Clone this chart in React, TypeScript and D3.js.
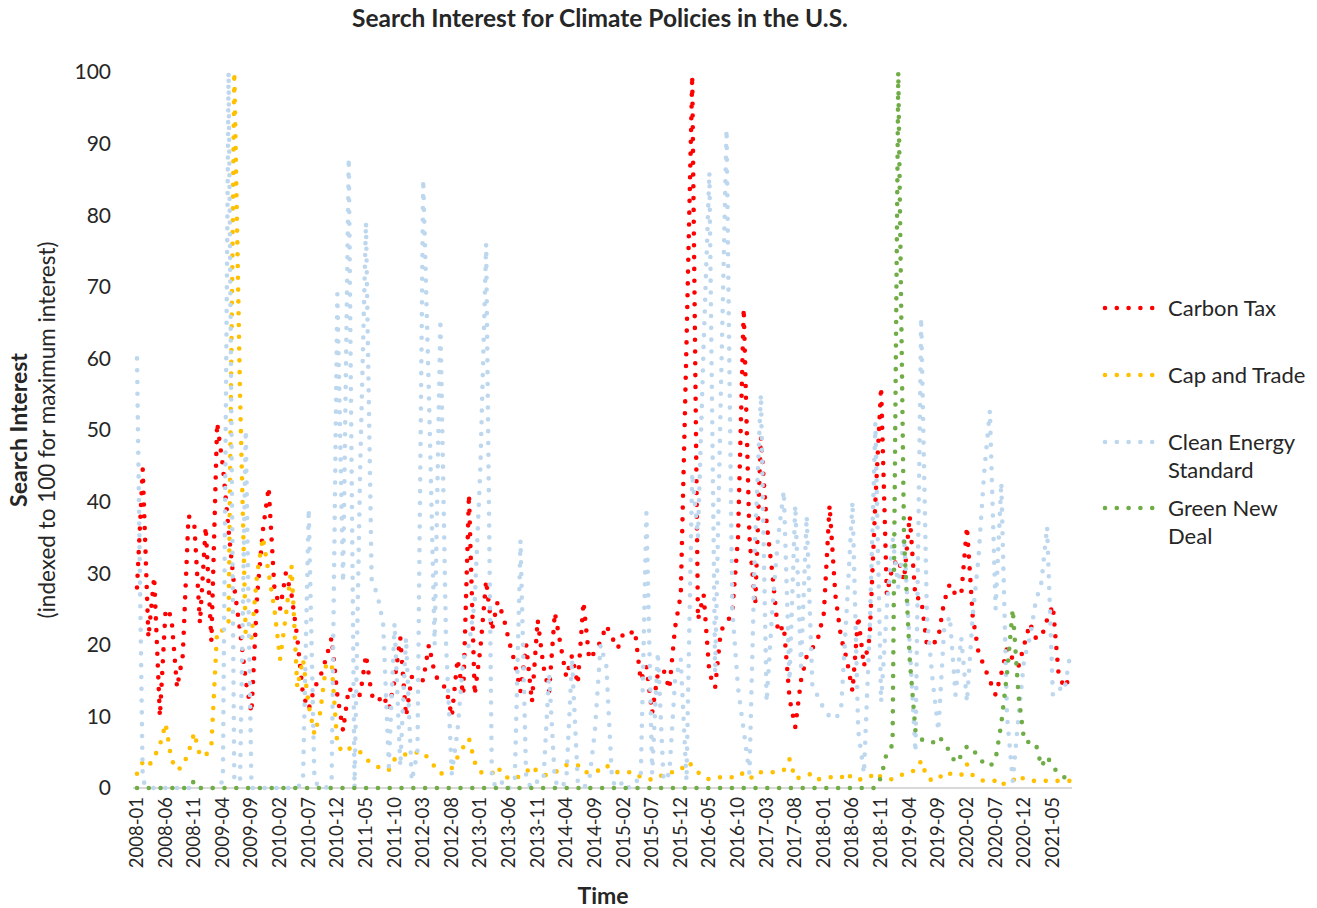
import React from "react";
import * as d3 from "d3";

const tickLabels = [
  "2008-01", "2008-06", "2008-11", "2009-04", "2009-09", "2010-02", "2010-07", "2010-12",
  "2011-05", "2011-10", "2012-03", "2012-08", "2013-01", "2013-06", "2013-11", "2014-04",
  "2014-09", "2015-02", "2015-07", "2015-12", "2016-05", "2016-10", "2017-03", "2017-08",
  "2018-01", "2018-06", "2018-11", "2019-04", "2019-09", "2020-02", "2020-07", "2020-12", "2021-05",
];
const tickStep = 5;

const carbonTax = [
  28, 44.5, 21, 29.5, 10, 25, 24, 14, 18.5, 38,
  37, 23, 36.5, 20.5, 51, 45, 36, 28, 22, 15,
  10.5, 27, 36, 42, 28, 25, 30, 27, 21, 13,
  11, 14, 15.5, 18, 21, 13, 8, 14, 13, 13,
  18.6, 13, 12, 13, 11, 15, 21, 10, 15.5, 15.5,
  15, 20, 16, 14.5, 14, 10, 18, 13, 41, 13,
  19.5, 29, 22, 26, 24, 20.5, 17.5, 13.5, 20, 12,
  23.5, 17, 13.5, 24.5, 20, 15.5, 18.5, 14.5, 26, 18,
  19, 20.5, 22.7, 21, 19.5, 21.7, 21.5, 22, 15, 17,
  10.5, 16, 16.5, 13.8, 22.4, 27, 62, 99.5, 23.5, 27,
  16, 14, 22, 23, 24.5, 35, 67, 35, 25.5, 49,
  37, 30, 21.7, 22.7, 12.5, 8.5, 15, 18.4, 19.5, 21,
  24.4, 39.5, 27, 21, 18, 13.5, 24, 17, 21, 40,
  56, 27, 31, 32, 29, 38, 26.5, 26.5, 20, 20,
  21, 26, 28.5, 27, 27, 36.5, 24, 19, 17, 15,
  13, 16, 19.5, 18, 17, 20, 23, 21, 21, 23.5,
  25.5, 16, 14, 15.5,
];

const capAndTrade = [
  2, 3.6, 3, 4.3, 6, 9, 4, 2.5, 3, 5,
  7.7, 4.5, 4.5, 6, 22, 22, 23, 100, 55, 21,
  21, 30, 35, 30, 25, 18, 24, 31, 14, 18,
  11.5, 7.5, 10.5, 17, 17.5, 6, 5, 5.5, 5.5, 5,
  4, 3.5, 3, 2.5, 2.5, 4, 4.5, 4.7, 4.7, 5,
  5, 4, 3, 2, 2.2, 2.8, 4.3, 5.7, 6.9, 3.6,
  2.2, 2.1, 2, 3, 1.6, 1.4, 1.2, 1.8, 2.2, 3.1,
  2.2, 1.8, 1.8, 2.2, 2.6, 3.2, 3.2, 3.2, 2.2, 2.2,
  2.2, 2.6, 3.2, 2.4, 2.2, 2.2, 2.2, 2.2, 1.5, 1.2,
  1.2, 1.3, 2, 2.2, 2.2, 2.5, 3.6, 3.2, 2.2, 1.5,
  1.2, 1.4, 1.5, 1.6, 1.5, 1.5, 2.2, 1.5, 1.4, 2.2,
  2.2, 2.2, 2.2, 2.5, 4, 1.3, 1.5, 1.8, 2, 1.2,
  1.4, 1.5, 1.5, 1.4, 2.2, 1.2, 1.2, 1.2, 1.5, 2.2,
  1.5, 1.3, 1.2, 1.6, 2, 2.2, 2.5, 3.8, 1.5, 1,
  1.2, 2.2, 2, 1.8, 1.8, 3.3, 1.8, 1.2, 1, 1,
  1, 0.3, 1, 1, 1.8, 1.2, 1, 1, 1, 1,
  1, 1, 1, 1,
];

const cleanEnergyStandard = [
  60, 1, 0, 0, 0, 0, 0, 0, 0, 0,
  0, 0, 0, 0, 0, 1, 100, 1, 1, 50,
  0, 0, 0, 0, 0, 0, 0, 0, 0, 1,
  39, 1, 0, 0, 1, 69, 28.7, 88, 0, 45,
  79, 29, 27, 23, 3, 23, 3, 21, 1, 5,
  85, 55, 20, 65.5, 20, 2, 8, 18, 20, 26,
  45, 76, 1, 0, 1, 0, 1, 34.6, 1, 0,
  1, 1, 16, 1, 0, 1, 18, 1, 0, 1,
  8, 20, 17, 1, 0, 1, 0, 1, 1, 38.4,
  2, 19, 1, 2, 15, 18, 1, 44, 35, 62,
  86, 16, 55, 92, 25, 14, 8, 2, 35, 55,
  12, 25, 35, 41.5, 15, 39.5, 17, 38, 14, 12.8,
  11, 10, 9.6, 10.9, 25, 40, 8, 2, 22, 51,
  12, 25, 35, 28, 35, 20, 5, 65.7, 24, 15,
  8, 22, 24, 13, 21, 12, 24, 32, 44, 52.7,
  25, 42.7, 10, 1, 10, 18, 21, 26, 28.7, 36.5,
  13, 14, 13.5, 18.5,
];

const greenNewDeal = [
  0, 0, 0, 0, 0, 0, 0, 0, 0, 0,
  1, 0, 0, 0, 0, 0, 0, 0, 0, 0,
  0, 0, 0, 0, 0, 0, 0, 0, 0, 0,
  0, 0, 0, 0, 0, 0, 0, 0, 0, 0,
  0, 0, 0, 0, 0, 0, 0, 0, 0, 0,
  0, 0, 0, 0, 0, 0, 0, 0, 0, 0,
  0, 0, 0, 0, 0, 0, 0, 0, 0, 0,
  0, 0, 0, 0, 0, 0, 0, 0, 0, 0,
  0, 0, 0, 0, 0, 0, 0, 0, 0, 0,
  0, 0, 0, 0, 0, 0, 0, 0, 0, 0,
  0, 0, 0, 0, 0, 0, 0, 0, 0, 0,
  0, 0, 0, 0, 0, 0, 0, 0, 0, 0,
  0, 0, 0, 0, 0, 0, 0, 0, 0, 0,
  1.5, 5, 6, 100, 35, 18, 8, 6.8, 6.5, 6.3,
  7.2, 6.4, 5, 3.5, 4.5, 5.8, 5.6, 4.1, 3.5, 3,
  4, 9, 16, 25, 13, 6.5, 6.4, 6.3, 3, 4.4,
  3, 2, 1.5, 1,
];

const yTicks = [0, 10, 20, 30, 40, 50, 60, 70, 80, 90, 100];

const seriesNames = ["Carbon Tax", "Cap and Trade", "Clean Energy Standard", "Green New Deal"];
const seriesLegendLines = [["Carbon Tax"], ["Cap and Trade"], ["Clean Energy", "Standard"], ["Green New", "Deal"]];
const seriesColors = ["#FF0000", "#FFC000", "#BDD7EE", "#70AD47"];
const seriesData = [carbonTax, capAndTrade, cleanEnergyStandard, greenNewDeal];

const FONT = "Lato, 'Open Sans', sans-serif";
const TEXT = "#262626";

export default function App() {
  const W = 1317;
  const H = 908;
  const n = carbonTax.length;
  const x = d3.scaleLinear().domain([0, n - 1]).range([137, 1070]);
  const y = d3.scaleLinear().domain([0, 100]).range([788, 72]);
  const line = d3
    .line<number>()
    .x((_, i) => x(i))
    .y((d) => y(d));

  const legendY = [308, 375, 442, 508];

  return (
    <div style={{ position: "absolute", left: 0, top: 0 }}>
      <svg width={W} height={H} style={{ display: "block", background: "#fff" }}>
        <text x={600} y={27} textAnchor="middle" fontFamily={FONT} fontWeight="bold" fontSize={24.5} fill={TEXT}>
          Search Interest for Climate Policies in the U.S.
        </text>

        {yTicks.map((t) => (
          <text key={t} x={111} y={y(t)} dy="0.35em" textAnchor="end" fontFamily={FONT} fontSize={21} fill={TEXT}>
            {t}
          </text>
        ))}

        <line x1={133} x2={1072} y1={y(0)} y2={y(0)} stroke="#D9D9D9" strokeWidth={2} />

        {tickLabels.map((lab, k) => (
          <text
            key={lab}
            transform={`translate(${x(k * tickStep) + 6},${797}) rotate(-90)`}
            textAnchor="end"
            fontFamily={FONT}
            fontSize={18.5}
            fill={TEXT}
          >
            {lab}
          </text>
        ))}

        <text
          transform="translate(27,430) rotate(-90)"
          textAnchor="middle"
          fontFamily={FONT}
          fontWeight="bold"
          fontSize={23}
          fill={TEXT}
        >
          Search Interest
        </text>
        <text
          transform="translate(55,430) rotate(-90)"
          textAnchor="middle"
          fontFamily={FONT}
          fontSize={22.5}
          fill={TEXT}
        >
          (indexed to 100 for maximum interest)
        </text>

        <text x={603} y={904} textAnchor="middle" fontFamily={FONT} fontWeight="bold" fontSize={23} fill={TEXT}>
          Time
        </text>

        {seriesData.map((data, s) => (
          <path
            key={seriesNames[s]}
            d={line(data) || ""}
            fill="none"
            stroke={seriesColors[s]}
            strokeWidth={4.6}
            strokeLinecap="round"
            strokeLinejoin="round"
            strokeDasharray="0 11.8"
          />
        ))}

        {seriesNames.map((name, s) => (
          <g key={name}>
            <line
              x1={1105}
              x2={1153}
              y1={legendY[s]}
              y2={legendY[s]}
              stroke={seriesColors[s]}
              strokeWidth={4.6}
              strokeLinecap="round"
              strokeDasharray="0 11.8"
            />
            {seriesLegendLines[s].map((t, j) => (
              <text
                key={t}
                x={1168}
                y={legendY[s] + j * 28}
                dy="0.35em"
                fontFamily={FONT}
                fontSize={22}
                fill={TEXT}
              >
                {t}
              </text>
            ))}
          </g>
        ))}
      </svg>
    </div>
  );
}
